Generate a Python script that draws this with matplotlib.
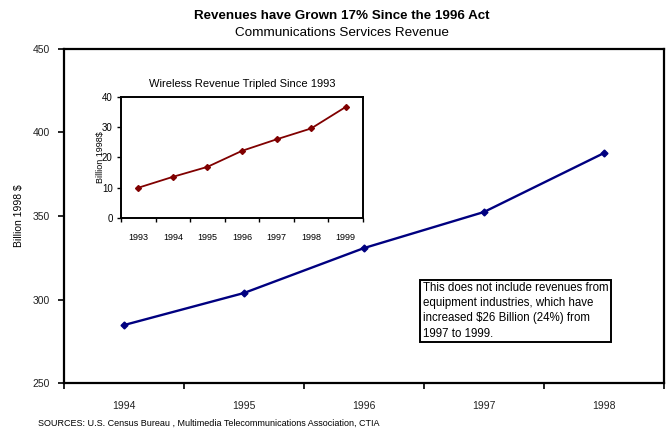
import matplotlib.pyplot as plt
import numpy as np

plt.rcParams['font.family'] = ['Liberation Sans', 'DejaVu Sans']

years = ['1994', '1995', '1996', '1997', '1998']
revenue = [284.7, 303.9, 330.8, 352.4, 387.7]

wireless_years = ['1993', '1994', '1995', '1996', '1997', '1998', '1999']
wireless = [10.0, 13.6, 16.9, 22.2, 26.0, 29.6, 36.7]

fig = plt.figure(figsize=(6.69, 4.32), dpi=100)

# main chart
ax = fig.add_axes([0.0957, 0.1134, 0.8968, 0.7732])
x = np.arange(len(years))
ax.plot(x, revenue, color='#000080', lw=1.7, marker='D', ms=3.5)
ax.set_xlim(-0.5, len(years) - 0.5)
ax.set_ylim(250, 450)
ax.set_yticks([250, 300, 350, 400, 450])
ax.set_xticks(x)
ax.set_xticklabels(years)
ax.set_xticks(np.arange(len(years) + 1) - 0.5, minor=True)
ax.tick_params(axis='x', which='major', length=0, pad=13, labelsize=7.5)
ax.tick_params(axis='x', which='minor', length=4, width=1.2, direction='out')
ax.tick_params(axis='y', length=4, width=1.2, direction='out', labelsize=7.5, pad=6)
ax.tick_params(axis='both', labelcolor='#222222')
ax.set_ylabel('Billion 1998 $', fontsize=7.5)
ax.yaxis.set_label_coords(-0.066, 0.5)
for s in ax.spines.values():
    s.set_linewidth(1.6)

ax.text(0.598, 0.302,
        'This does not include revenues from\nequipment industries, which have\n'
        'increased $26 Billion (24%) from\n1997 to 1999.',
        transform=ax.transAxes, fontsize=8.3, va='top', ha='left', linespacing=1.35,
        bbox=dict(boxstyle='square,pad=0.2', fc='white', ec='black', lw=1.4))

# wireless inset
ins = fig.add_axes([0.1809, 0.4954, 0.3617, 0.2801])
xw = np.arange(len(wireless_years))
ins.plot(xw, wireless, color='#800000', lw=1.3, marker='D', ms=3)
ins.set_xlim(-0.5, len(wireless_years) - 0.5)
ins.set_ylim(0, 40)
ins.set_yticks([0, 10, 20, 30, 40])
ins.set_xticks(xw)
ins.set_xticklabels(wireless_years)
ins.set_xticks(np.arange(len(wireless_years) + 1) - 0.5, minor=True)
ins.tick_params(axis='x', which='major', length=0, pad=11, labelsize=6.5)
ins.tick_params(axis='x', which='minor', length=3, width=1, direction='out')
ins.tick_params(axis='y', length=3, width=1, direction='out', labelsize=7, pad=3)
ins.set_ylabel('Billion 1998$', fontsize=6.5)
ins.yaxis.set_label_coords(-0.065, 0.5)
ins.set_title('Wireless Revenue Tripled Since 1993', fontsize=8, pad=7)
for s in ins.spines.values():
    s.set_linewidth(1.4)

fig.text(0.511, 0.962, 'Revenues have Grown 17% Since the 1996 Act',
         ha='center', va='center', fontsize=9.6, fontweight='bold')
fig.text(0.511, 0.924, 'Communications Services Revenue',
         ha='center', va='center', fontsize=9.7)
fig.text(0.057, 0.021,
         'SOURCES: U.S. Census Bureau , Multimedia Telecommunications Association, CTIA',
         ha='left', va='center', fontsize=6.5)

fig.savefig('out.png', dpi=100)
